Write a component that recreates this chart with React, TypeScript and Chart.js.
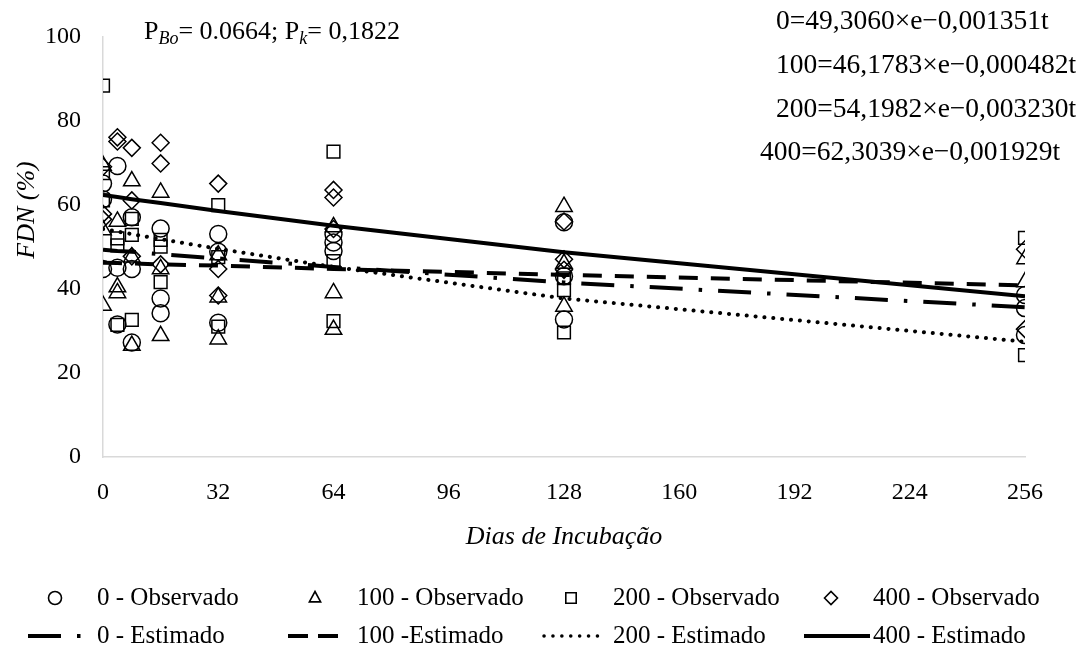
import React, { useEffect, useRef } from 'react';
import { Chart, registerables } from 'chart.js';

Chart.register(...registerables);

// ---------- data ----------
const estDays = [0, 4, 8, 16, 32, 64, 128, 256];

const obs0Days = [0, 0, 0, 4, 4, 4, 8, 8, 8, 16, 16, 16, 32, 32, 32, 64, 64, 64, 128, 128, 128, 256, 256, 256];
const obs0Vals = [65, 61.3, 44.7, 69.2, 45, 31.5, 57, 44.7, 27.2, 54.3, 37.7, 34.2, 53, 48.8, 31.9, 53, 51, 49, 55.8, 43, 32.7, 38.5, 35.4, 29];

const obs100Days = [0, 0, 0, 4, 4, 4, 8, 8, 8, 16, 16, 16, 32, 32, 32, 64, 64, 64, 128, 128, 128, 256, 256];
const obs100Vals = [69.3, 54, 36, 56, 40.4, 39, 65.6, 47.5, 26.5, 62.9, 44.7, 28.8, 48, 38, 28, 54.7, 39, 30.3, 59.5, 46, 35.8, 47.1, 41.6];

const obs200Days = [0, 0, 0, 4, 4, 4, 8, 8, 8, 16, 16, 16, 32, 32, 32, 64, 64, 64, 128, 128, 128, 256, 256];
const obs200Vals = [88.3, 67.5, 61, 52, 50.3, 31.4, 56.6, 52.8, 32.6, 51.6, 50, 41.6, 59.9, 47.5, 31, 72.6, 46.6, 32.3, 42.5, 39.7, 29.6, 52.1, 24.2];

const obs400Days = [0, 0, 0, 4, 4, 8, 8, 8, 16, 16, 16, 32, 32, 32, 64, 64, 64, 128, 128, 128, 256, 256];
const obs400Vals = [69, 57.8, 56.5, 76, 75, 73.5, 61, 47.7, 74.7, 69.8, 45.8, 65, 44.7, 38.4, 63.5, 61.7, 54.2, 56, 47, 44.5, 49.4, 30.4];

const est0Vals = [49.3, 49.0, 48.8, 48.2, 47.2, 45.2, 41.5, 35.6];
const est100Vals = [46.2, 46.1, 46.0, 45.8, 45.5, 44.7, 43.3, 40.8];
const est200Vals = [54.2, 53.6, 53.0, 51.8, 49.5, 45.2, 37.7, 27.4];
const est400Vals = [62.3, 61.8, 61.3, 60.4, 58.5, 55.0, 48.7, 38.2];

const xMin = 0;
const xMax = 256;
const xStep = 32;
const yMin = 0;
const yMax = 100;
const yStep = 20;

const xTitle = 'Dias de Incubação';
const yTitle = 'FDN (%)';
const equations = [
  '0=49,3060×e−0,001351t',
  '100=46,1783×e−0,000482t',
  '200=54,1982×e−0,003230t',
  '400=62,3039×e−0,001929t',
];
const obsLabels = ['0 - Observado', '100 - Observado', '200 - Observado', '400 - Observado'];
const estLabels = ['0 - Estimado', '100 -Estimado', '200 - Estimado', '400 - Estimado'];

// ---------- helpers ----------
const FONT = '"Liberation Serif", "Times New Roman", serif';
const INK = '#000000';

const toPts = (xs: number[], ys: number[]) => xs.map((x, i) => ({ x, y: ys[i] }));

const DASH_DOT = [33, 16, 3.5, 16];
const DASH = [19, 13];
const DOT = [0.1, 8.8];

function drawMarker(ctx: CanvasRenderingContext2D, kind: string, x: number, y: number, r: number) {
  ctx.beginPath();
  if (kind === 'circle') {
    ctx.arc(x, y, r, 0, Math.PI * 2);
  } else if (kind === 'triangle') {
    ctx.moveTo(x, y - r);
    ctx.lineTo(x + r * 0.866, y + r * 0.6);
    ctx.lineTo(x - r * 0.866, y + r * 0.6);
    ctx.closePath();
  } else if (kind === 'rect') {
    const s = r * 0.8;
    ctx.rect(x - s, y - s, 2 * s, 2 * s);
  } else {
    ctx.moveTo(x - r, y);
    ctx.lineTo(x, y - r);
    ctx.lineTo(x + r, y);
    ctx.lineTo(x, y + r);
    ctx.closePath();
  }
  ctx.stroke();
}

const overlayPlugin = {
  id: 'overlay',
  afterDraw(chart: any) {
    const ctx: CanvasRenderingContext2D = chart.ctx;
    ctx.save();
    ctx.fillStyle = INK;
    ctx.strokeStyle = INK;

    // y axis title
    ctx.save();
    ctx.translate(27, 210);
    ctx.rotate(-Math.PI / 2);
    ctx.font = `italic 26px ${FONT}`;
    ctx.textAlign = 'center';
    ctx.textBaseline = 'middle';
    ctx.fillText(yTitle, 0, 0);
    ctx.restore();

    // P values text
    ctx.textBaseline = 'alphabetic';
    ctx.textAlign = 'left';
    let px = 144;
    const pBase = 39;
    const seg = (t: string, f: string, dy = 0) => {
      ctx.font = f;
      ctx.fillText(t, px, pBase + dy);
      px += ctx.measureText(t).width;
    };
    seg('P', `26px ${FONT}`);
    seg('Bo', `italic 18px ${FONT}`, 5);
    seg('= 0.0664; P', `26px ${FONT}`);
    seg('k', `italic 18px ${FONT}`, 5);
    seg('= 0,1822', `26px ${FONT}`);

    // equations
    ctx.font = `27.5px ${FONT}`;
    ctx.textBaseline = 'middle';
    const eqX = [776, 776, 776, 760];
    const eqY = [22, 66, 110, 153];
    equations.forEach((t, i) => ctx.fillText(t, eqX[i], eqY[i]));

    // legend
    const colX = [97, 357, 613, 873];
    const row1 = 598;
    const row2 = 636;
    const kinds = ['circle', 'triangle', 'rect', 'rectRot'];
    ctx.font = `25px ${FONT}`;
    ctx.textBaseline = 'middle';
    obsLabels.forEach((t, i) => {
      ctx.lineWidth = 1.6;
      drawMarker(ctx, kinds[i], colX[i] - 42, row1, 6.5);
      ctx.fillText(t, colX[i], row1);
    });
    const dashes = [DASH_DOT, [20, 10], DOT, []];
    const starts = [-69, -69, -69, -69];
    const ends = [-15, -19, -10, -3];
    estLabels.forEach((t, i) => {
      ctx.save();
      ctx.lineWidth = i === 2 ? 3.5 : 4;
      ctx.lineCap = i === 2 ? 'round' : 'butt';
      ctx.setLineDash(dashes[i]);
      ctx.beginPath();
      ctx.moveTo(colX[i] + starts[i], row2);
      ctx.lineTo(colX[i] + ends[i], row2);
      ctx.stroke();
      ctx.restore();
      ctx.fillText(t, colX[i], row2);
    });
    ctx.restore();
  },
};

export default function App() {
  const ref = useRef<HTMLCanvasElement | null>(null);

  useEffect(() => {
    if (!ref.current) return;
    Chart.defaults.font.family = FONT;
    Chart.defaults.color = INK;

    const lineDs = (label: string, vals: number[], dash: number[], width: number, cap: any) => ({
      type: 'line' as const,
      label,
      data: toPts(estDays, vals),
      borderColor: INK,
      borderWidth: width,
      borderDash: dash,
      borderCapStyle: cap,
      pointRadius: 0,
      fill: false,
      tension: 0,
    });
    const obsDs = (label: string, xs: number[], ys: number[], style: string, r: number) => ({
      type: 'scatter' as const,
      label,
      data: toPts(xs, ys),
      pointStyle: style,
      pointRadius: r,
      pointHoverRadius: r,
      pointBorderColor: INK,
      pointBackgroundColor: 'rgba(0,0,0,0)',
      pointBorderWidth: 1.5,
      borderColor: INK,
      backgroundColor: 'rgba(0,0,0,0)',
      showLine: false,
    });

    const chart = new Chart(ref.current, {
      type: 'scatter',
      data: {
        datasets: [
          lineDs(estLabels[3], est400Vals, [], 4, 'butt'),
          lineDs(estLabels[2], est200Vals, DOT, 4, 'round'),
          lineDs(estLabels[1], est100Vals, DASH, 4, 'butt'),
          lineDs(estLabels[0], est0Vals, DASH_DOT, 4, 'butt'),
          obsDs(obsLabels[0], obs0Days, obs0Vals, 'circle', 8.5),
          obsDs(obsLabels[1], obs100Days, obs100Vals, 'triangle', 9.5),
          obsDs(obsLabels[2], obs200Days, obs200Vals, 'rect', 9),
          obsDs(obsLabels[3], obs400Days, obs400Vals, 'rectRot', 8.5),
        ] as any,
      },
      options: {
        responsive: false,
        animation: false,
        events: [],
        layout: { padding: { left: 0, right: 56, top: 28, bottom: 0 } },
        plugins: {
          legend: { display: false },
          tooltip: { enabled: false },
          title: { display: false },
        },
        scales: {
          x: {
            type: 'linear',
            min: xMin,
            max: xMax,
            ticks: { stepSize: xStep, padding: 21, font: { size: 24 }, color: INK },
            grid: { display: false, drawTicks: false },
            border: { display: true, color: '#d9d9d9', width: 1.5 },
            title: {
              display: true,
              text: xTitle,
              font: { size: 26, style: 'italic' },
              color: INK,
              padding: { top: 0, bottom: 98 },
            },
            afterFit: (s: any) => {
              s.height = 194;
            },
          },
          y: {
            type: 'linear',
            min: yMin,
            max: yMax,
            ticks: { stepSize: yStep, padding: 22, font: { size: 24 }, color: INK },
            grid: { display: false, drawTicks: false },
            border: { display: true, color: '#d9d9d9', width: 1.5 },
            afterFit: (s: any) => {
              s.width = 103;
            },
          },
        },
      },
      plugins: [overlayPlugin],
    });
    return () => chart.destroy();
  }, []);

  return (
    <div style={{ position: 'absolute', left: 0, top: 0, width: 1081, height: 651, background: '#fff' }}>
      <canvas ref={ref} width={1081} height={651} style={{ display: 'block' }} />
    </div>
  );
}
